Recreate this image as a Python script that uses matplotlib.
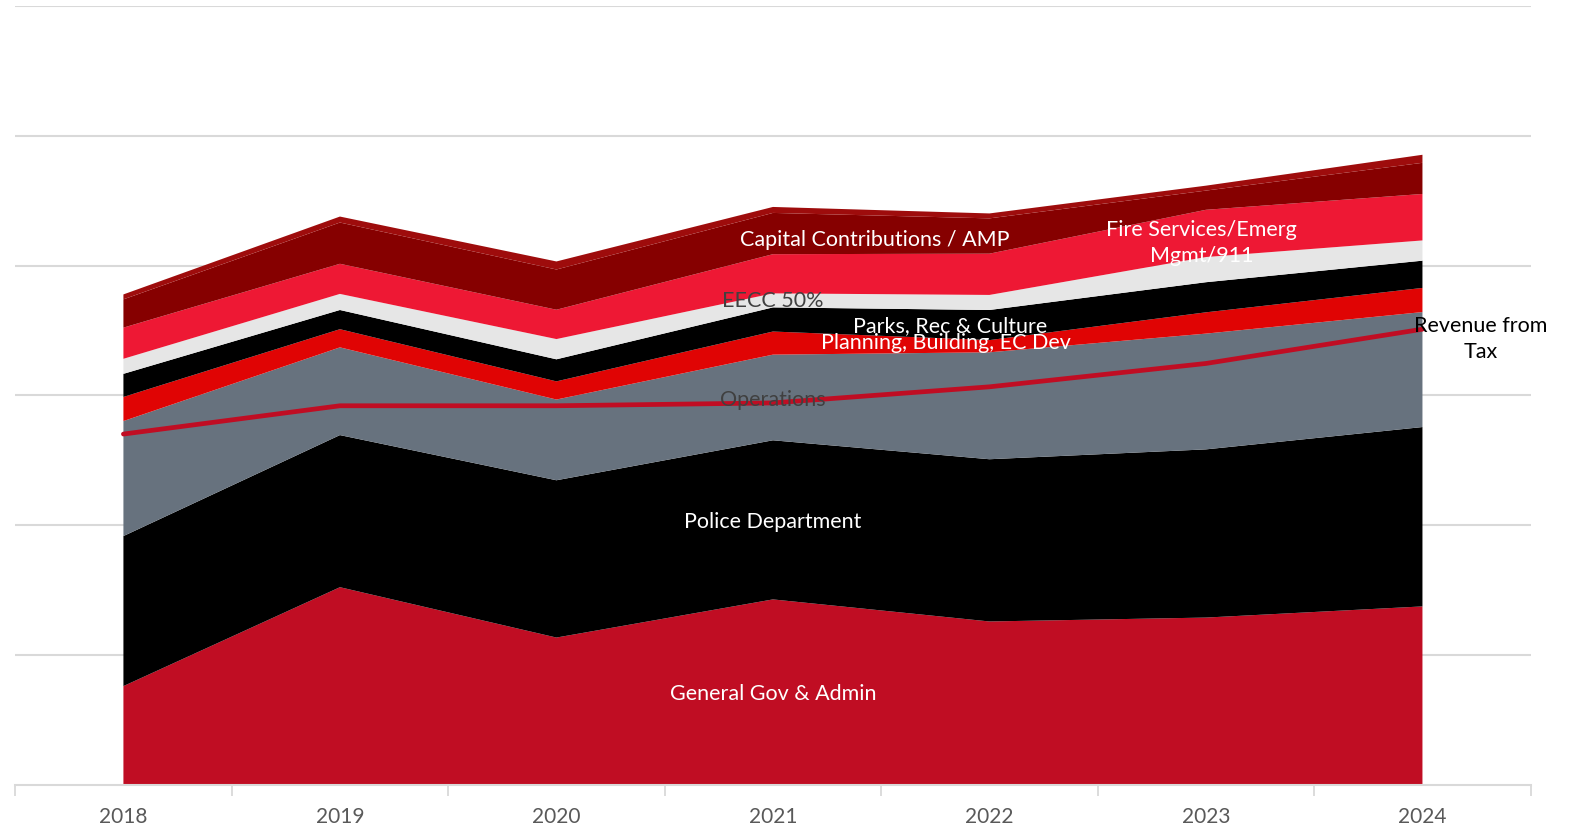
import numpy as np
import matplotlib
matplotlib.use("Agg")
import matplotlib.pyplot as plt

plt.rcParams['font.family'] = ['Lato', 'DejaVu Sans']

# data (gridline step = 5)
years = ['2018', '2019', '2020', '2021', '2022', '2023', '2024']
general_gov = [3.80, 7.61, 5.67, 7.14, 6.29, 6.44, 6.87]
police = [5.78, 5.86, 6.06, 6.13, 6.25, 6.48, 6.91]
operations = [4.43, 3.38, 3.11, 3.30, 4.12, 4.46, 4.43]
planning = [0.93, 0.70, 0.70, 0.89, 0.47, 0.82, 0.93]
parks = [0.89, 0.74, 0.85, 0.93, 1.16, 1.16, 1.05]
eecc = [0.58, 0.62, 0.78, 0.54, 0.58, 0.97, 0.78]
fire = [1.20, 1.16, 1.13, 1.51, 1.59, 1.82, 1.79]
capital = [1.09, 1.59, 1.55, 1.59, 1.36, 0.74, 1.20]
other = [0.19, 0.23, 0.31, 0.23, 0.19, 0.19, 0.31]
revenue_tax = [13.51, 14.60, 14.60, 14.71, 15.33, 16.23, 17.55]

series = [general_gov, police, operations, planning, parks, eecc, fire, capital, other]
colors = ['#C00D23', '#000000', '#67727E', '#E00404', '#000000',
          '#E6E6E6', '#EE1834', '#860000', '#9E0C0C']

fig = plt.figure(figsize=(15.8, 8.29), dpi=100)
ax = fig.add_axes([0.0096, 0.0522, 0.9592, 0.9393])

x = np.arange(len(years))
ax.stackplot(x, *series, colors=colors, linewidth=0, zorder=2)
ax.plot(x, revenue_tax, color='#C00D23', lw=3.4, solid_capstyle='round', zorder=3)

ax.set_xlim(-0.5, len(years) - 0.5)
ax.set_ylim(0, 30)
ax.set_yticks(np.arange(5, 31, 5))
ax.yaxis.grid(True, color='#D9D9D9', lw=1.5, zorder=0)
ax.set_axisbelow(True)
ax.tick_params(axis='y', left=False, labelleft=False)

# category axis: labels centered, ticks at boundaries
ax.set_xticks(x)
ax.set_xticklabels(years, fontsize=15, color='#595959')
ax.tick_params(axis='x', length=0, pad=15)
ax.set_xticks(np.arange(-0.5, len(years)), minor=True)
ax.tick_params(axis='x', which='minor', length=8, width=1.3, color='#D9D9D9')
for s in ['top', 'right', 'left']:
    ax.spines[s].set_visible(False)
ax.spines['bottom'].set_color('#D9D9D9')
ax.spines['bottom'].set_linewidth(1.5)

fs = 15.5
ax.text(3, 3.53, 'General Gov & Admin', color='white', fontsize=fs, ha='center', va='center', zorder=4)
ax.text(3, 10.17, 'Police Department', color='white', fontsize=fs, ha='center', va='center', zorder=4)
ax.text(3, 14.87, 'Operations', color='#404040', fontsize=fs, ha='center', va='center', zorder=4)
ax.text(3.8, 17.04, 'Planning, Building, EC Dev', color='white', fontsize=fs, ha='center', va='center', zorder=4)
ax.text(3.82, 17.7, 'Parks, Rec & Culture', color='white', fontsize=fs, ha='center', va='center', zorder=4)
ax.text(3, 18.67, 'EECC 50%', color='#404040', fontsize=fs, ha='center', va='center', zorder=4)
ax.text(3.47, 21.04, 'Capital Contributions / AMP', color='white', fontsize=fs, ha='center', va='center', zorder=4)
ax.text(4.98, 20.92, 'Fire Services/Emerg\nMgmt/911', color='white', fontsize=fs, ha='center', va='center',
        linespacing=1.4, zorder=4)
ax.text(6.27, 17.2, 'Revenue from\nTax', color='black', fontsize=fs, ha='center', va='center',
        linespacing=1.4, zorder=4, clip_on=False)

fig.savefig('out.png', dpi=100)
